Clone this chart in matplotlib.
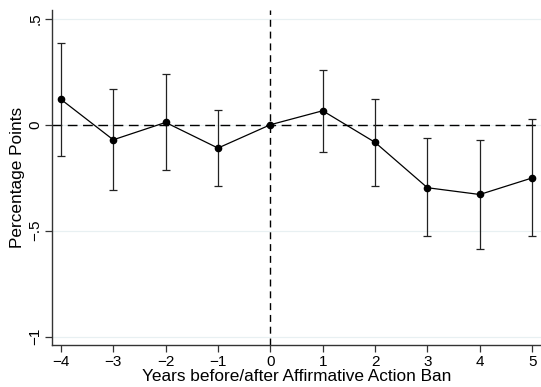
import matplotlib
matplotlib.use("Agg")
import matplotlib.pyplot as plt

# event-study estimates
years = [-4, -3, -2, -1, 0, 1, 2, 3, 4, 5]
coef = [0.120, -0.071, 0.011, -0.110, 0.0, 0.066, -0.083, -0.297, -0.329, -0.251]
ci_hi = [0.387, 0.167, 0.241, 0.068, 0.0, 0.258, 0.123, -0.064, -0.072, 0.027]
ci_lo = [-0.146, -0.308, -0.215, -0.288, 0.0, -0.127, -0.288, -0.523, -0.586, -0.523]

yticks = [-1, -0.5, 0, 0.5]
ytick_labels = ["\u22121", "\u2212.5", "0", ".5"]

plt.rcParams["font.family"] = ["Liberation Sans", "DejaVu Sans"]

fig = plt.figure(figsize=(5.41, 3.87), dpi=100)
ax = fig.add_axes([0.0961, 0.1085, 0.9039, 0.8655])

for y in yticks:
    ax.axhline(y, color="#e8f0f2", lw=0.9, zorder=0)

ax.axhline(0, color="black", lw=1.0, ls=(0, (7, 4)), zorder=1)
ax.axvline(0, color="black", lw=1.0, ls=(0, (5, 3.5)), zorder=1)

lo_err = [c - l for c, l in zip(coef, ci_lo)]
hi_err = [h - c for c, h in zip(coef, ci_hi)]
ax.errorbar(years, coef, yerr=[lo_err, hi_err], fmt="none", ecolor="#222222",
            elinewidth=0.9, capsize=3.2, capthick=0.9, zorder=2)
ax.plot(years, coef, color="black", lw=0.9, marker="o", markersize=4.5, zorder=3)

ax.set_xlim(-4.17, 5.17)
ax.set_ylim(-1.039, 0.541)
ax.set_xticks(years)
ax.set_xticklabels([str(y).replace("-", "\u2212") for y in years])
ax.set_yticks(yticks)
ax.set_yticklabels(ytick_labels, rotation=90, va="center")

for s in ["top", "right"]:
    ax.spines[s].set_visible(False)
for s in ["left", "bottom"]:
    ax.spines[s].set_color("#333333")
    ax.spines[s].set_linewidth(1.0)
ax.tick_params(length=5, width=0.9, color="#333333", labelsize=11, pad=2)

ax.set_xlabel("Years before/after Affirmative Action Ban", fontsize=12.4, labelpad=0)
ax.set_ylabel("Percentage Points", fontsize=12.4, labelpad=2)

fig.savefig("out.png", dpi=100)
